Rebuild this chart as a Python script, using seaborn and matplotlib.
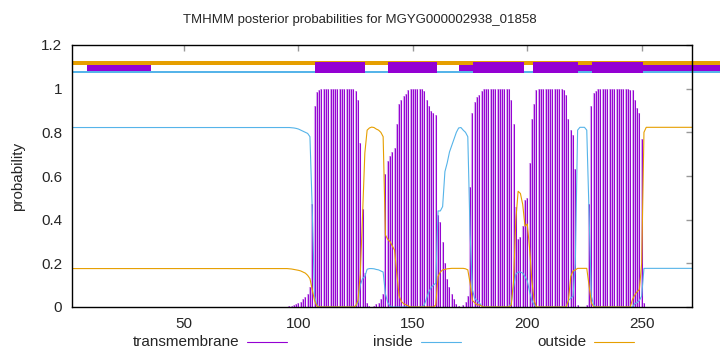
import numpy as np
import matplotlib
matplotlib.use("Agg")
import matplotlib.pyplot as plt
from matplotlib.patches import Rectangle
from matplotlib.lines import Line2D
import seaborn as sns

# posterior probabilities per residue (1..272)
residues = np.arange(1, 273)

inside = ([0.822] * 94
          + [0.822, 0.822, 0.821, 0.82, 0.818, 0.815, 0.81, 0.805, 0.80, 0.795, 0.78, 0.45, 0.05, 0.01]
          + [0.0] * 16
          + [0.005, 0.02, 0.10, 0.13, 0.14, 0.173, 0.176, 0.176, 0.175, 0.172, 0.17, 0.165, 0.16]
          + [0.06, 0.02, 0.005, 0, 0, 0, 0, 0, 0, 0, 0]
          + [0.0] * 6 + [0.01]
          + [0.04, 0.07, 0.09, 0.10, 0.11]
          + [0.44, 0.44, 0.46, 0.62, 0.66, 0.71, 0.74, 0.77, 0.80, 0.82, 0.822, 0.81, 0.80, 0.78, 0.34]
          + [0.08, 0.04, 0.03, 0.02, 0.005]
          + [0.0] * 12
          + [0.02, 0.09, 0.15, 0.16, 0.16, 0.155, 0.14, 0.12, 0.07, 0.03, 0.01]
          + [0.0] * 14
          + [0.03, 0.04, 0.05, 0.20, 0.81, 0.823, 0.823, 0.823, 0.81, 0.43, 0.05]
          + [0.01] + [0.0] * 17
          + [0.015, 0.02, 0.03, 0.05, 0.177]
          + [0.177] * 21)

outside = ([0.176] * 94
           + [0.176, 0.175, 0.174, 0.172, 0.17, 0.168, 0.165, 0.16, 0.155, 0.145, 0.13, 0.08, 0.03, 0.005]
           + [0.0] * 16
           + [0.005, 0.03, 0.15, 0.42, 0.705, 0.81, 0.82, 0.824, 0.822, 0.815, 0.81, 0.80, 0.78]
           + [0.33, 0.31, 0.30, 0.28, 0.26, 0.15, 0.05, 0.025, 0.015, 0.01, 0.005]
           + [0.0] * 7
           + [0, 0, 0, 0, 0.01]
           + [0.14, 0.16, 0.17, 0.172, 0.175, 0.176, 0.177, 0.177, 0.177, 0.177, 0.177, 0.177, 0.175, 0.17, 0.11]
           + [0.03, 0.02, 0.01, 0.01, 0.005]
           + [0.0] * 12
           + [0.01, 0.12, 0.40, 0.53, 0.52, 0.47, 0.37, 0.38, 0.27, 0.12, 0.03]
           + [0.0] * 14
           + [0.03, 0.14, 0.165, 0.17, 0.177, 0.177, 0.177, 0.177, 0.177, 0.10, 0.02]
           + [0.0] * 17 + [0.035]
           + [0.055, 0.07, 0.08, 0.20, 0.80]
           + [0.823] * 21)

transmembrane = ([0.002] * 94
                 + [0.002, 0.004, 0.006, 0.009, 0.013, 0.018, 0.025, 0.035, 0.045, 0.06, 0.09, 0.47, 0.92, 0.985]
                 + [0.993, 0.997] + [1.0] * 14
                 + [0.99, 0.95, 0.75, 0.45, 0.155, 0.017, 0.004, 0.0, 0.003, 0.013, 0.02, 0.035, 0.06]
                 + [0.61, 0.67, 0.69, 0.71, 0.73, 0.84, 0.93, 0.95, 0.965, 0.975, 0.995]
                 + [1.0] * 6 + [0.99]
                 + [0.95, 0.92, 0.90, 0.89, 0.88]
                 + [0.42, 0.39, 0.30, 0.20, 0.13, 0.09, 0.06, 0.035, 0.015, 0.003, 0.002, 0.01, 0.025, 0.05, 0.55]
                 + [0.89, 0.94, 0.96, 0.97, 0.99]
                 + [1.0] * 12
                 + [0.95, 0.84, 0.46, 0.31, 0.32, 0.37, 0.49, 0.50, 0.66, 0.86, 0.93]
                 + [0.995] + [1.0] * 11 + [0.995, 0.97]
                 + [0.86, 0.81, 0.79, 0.63, 0.01, 0.0, 0.0, 0.0, 0.01, 0.47, 0.92]
                 + [0.98, 0.99] + [1.0] * 14 + [0.995, 0.995]
                 + [0.95, 0.91, 0.89, 0.77, 0.02]
                 + [0.0] * 21)

# predicted topology strip at the top
tm_start = [107.2, 139.0, 176.3, 202.5, 228.3]
tm_end = [129.0, 160.7, 198.6, 222.2, 250.6]
thin_start = [7.6, 170.0, 221.7, 250.6]
thin_end = [35.4, 176.3, 228.3, 284.5]
strip_end = 284.5

purple = "#9400D3"
lavender = "#D7A8EE"
blue = "#56B4E9"
orange = "#E69F00"

sns.set_style("white")
plt.rcParams["font.family"] = ["Liberation Sans", "DejaVu Sans"]
plt.rcParams["font.size"] = 11

fig = plt.figure(figsize=(7.2, 3.52), dpi=100)
ax = fig.add_axes([72 / 720, 1 - 307 / 352, 620 / 720, 262 / 352])

# impulses: soft wide stroke under a thin dark one, like gnuplot's antialiased lw 2
ax.vlines(residues, 0, transmembrane, color=lavender, lw=1.5, zorder=2)
ax.vlines(residues, 0, transmembrane, color=purple, lw=0.7, zorder=2)
sns.lineplot(x=residues, y=inside, color=blue, lw=0.8, estimator=None, ax=ax, zorder=3)
sns.lineplot(x=residues, y=outside, color=orange, lw=0.8, estimator=None, ax=ax, zorder=3)

# topology strip
ax.add_patch(Rectangle((1, 1.109), strip_end - 1, 0.016, color=orange, clip_on=False, zorder=4, lw=0))
ax.add_patch(Rectangle((1, 1.070), strip_end - 1, 0.013, color=blue, clip_on=False, zorder=4, lw=0))
for s, e in zip(thin_start, thin_end):
    ax.add_patch(Rectangle((s, 1.080), e - s, 0.028, color=purple, clip_on=False, zorder=5, lw=0))
for s, e in zip(tm_start, tm_end):
    ax.add_patch(Rectangle((s, 1.072), e - s, 0.049, color=purple, clip_on=False, zorder=5, lw=0))

ax.set_xlim(1, 272)
ax.set_ylim(0, 1.2)
ax.set_xticks([50, 100, 150, 200, 250])
ax.set_yticks([0, 0.2, 0.4, 0.6, 0.8, 1.0, 1.2])
ax.set_yticklabels(["0", "0.2", "0.4", "0.6", "0.8", "1", "1.2"])
ax.tick_params(direction="in", length=4, width=1, color="#999999", top=True, right=True,
               labelsize=11, pad=7)
for sp in ax.spines.values():
    sp.set_color("black")
    sp.set_linewidth(1.0)
    sp.set_zorder(6)

ax.set_ylabel("probability", fontsize=11)
ax.yaxis.set_label_coords(-47 / 620, 0.5)
ax.set_xlabel("")

fig.text(0.5, 1 - 20 / 352, "TMHMM posterior probabilities for MGYG000002938_01858",
         ha="center", va="center", fontsize=9.5)

# gnuplot-style key below the plot
labels = ["transmembrane", "inside", "outside"]
colors = [purple, blue, orange]
text_right = [239, 413, 586]
line_y = 1 - 342 / 352
for lab, col, xr in zip(labels, colors, text_right):
    fig.text(xr / 720, line_y, lab, ha="right", va="center", fontsize=11)
    fig.add_artist(Line2D([(xr + 8) / 720, (xr + 48) / 720], [line_y, line_y],
                          transform=fig.transFigure, color=col, lw=0.8))

fig.savefig("out.png", dpi=100)
